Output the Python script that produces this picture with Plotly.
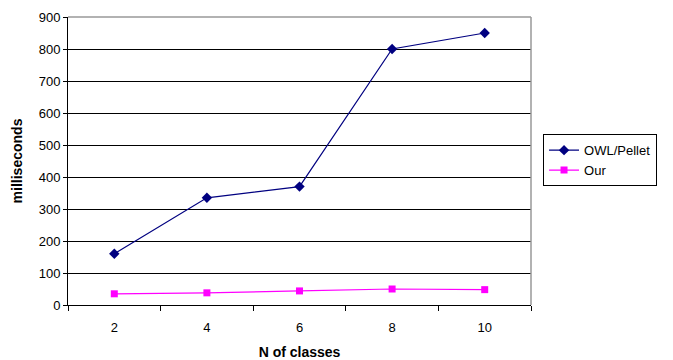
import plotly.graph_objects as go

classes = [2, 4, 6, 8, 10]
owl_pellet = [160, 335, 370, 800, 850]
our = [35, 38, 44, 50, 48]
y_ticks = [0, 100, 200, 300, 400, 500, 600, 700, 800, 900]

font = "Liberation Sans, Arial, sans-serif"

fig = go.Figure()
fig.add_trace(go.Scatter(
    x=classes, y=owl_pellet, name="OWL/Pellet", mode="lines+markers",
    line=dict(color="#000080", width=1.2),
    marker=dict(symbol="diamond", size=8, color="#000080"),
))
fig.add_trace(go.Scatter(
    x=classes, y=our, name="Our", mode="lines+markers",
    line=dict(color="#FF00FF", width=1.2),
    marker=dict(symbol="square", size=7, color="#FF00FF"),
))

fig.update_layout(
    width=673, height=360,
    margin=dict(l=68, r=142, t=17, b=55),
    paper_bgcolor="white", plot_bgcolor="white",
    font=dict(family=font, size=13, color="black"),
    showlegend=True,
    legend=dict(
        x=1.026, y=0.593, xanchor="left", yanchor="top",
        bordercolor="black", borderwidth=1, bgcolor="white",
        font=dict(family=font, size=13),
        itemwidth=30, tracegroupgap=2,
    ),
    xaxis=dict(
        range=[1, 11], tickvals=classes, ticktext=[str(c) for c in classes],
        ticks="", showgrid=False, zeroline=False, automargin=False,
        showline=True, linecolor="black", linewidth=1,
        ticklabelstandoff=10,
        minor=dict(tickvals=[1, 3, 5, 7, 9, 11], ticks="outside", ticklen=5,
                   tickcolor="black", showgrid=False),
        title=dict(text="<b>N of classes</b>", font=dict(family=font, size=14), standoff=14),
        tickfont=dict(family=font, size=13),
    ),
    yaxis=dict(
        range=[0, 900], tickvals=y_ticks, automargin=False,
        ticks="outside", ticklen=4, tickcolor="black",
        showgrid=True, gridcolor="black", gridwidth=1, zeroline=False,
        showline=True, linecolor="black", linewidth=1,
        title=dict(text="<b>milliseconds</b>", font=dict(family=font, size=14), standoff=12),
        tickfont=dict(family=font, size=13),
    ),
)

# gray frame along the top and right of the plot area
fig.add_shape(type="line", xref="paper", yref="paper", x0=0, x1=1, y0=1, y1=1,
              line=dict(color="#999999", width=1.5), layer="above")
fig.add_shape(type="line", xref="paper", yref="paper", x0=1, x1=1, y0=0, y1=1,
              line=dict(color="#999999", width=1.5), layer="above")

fig.write_html("out.html")
